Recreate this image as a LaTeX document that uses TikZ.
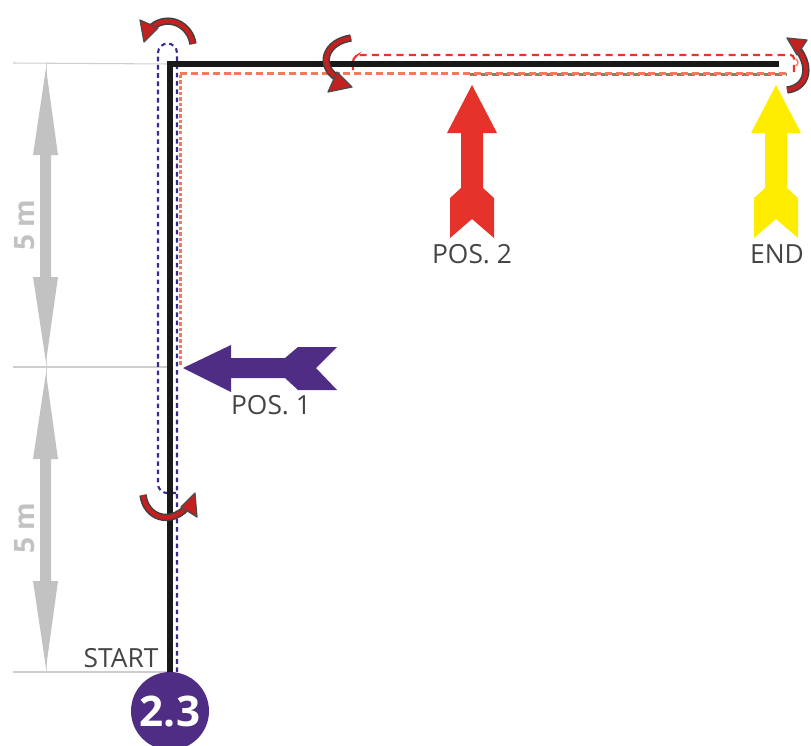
\documentclass[tikz,border=0pt]{standalone}
\usepackage{fontspec}
\setmainfont{Open Sans}
\usepackage{xcolor}
\usetikzlibrary{positioning}
\definecolor{trackpurple}{HTML}{4F2D84}
\definecolor{trackblue}{HTML}{3B2A8C}
\definecolor{trackorange}{HTML}{F4785A}
\definecolor{trackred}{HTML}{E8332A}
\definecolor{trackgreen}{HTML}{6E8F60}
\definecolor{signred}{HTML}{E5322A}
\definecolor{signyellow}{HTML}{FFED00}
\definecolor{dimgrey}{HTML}{C2C2C2}
\definecolor{turnred}{HTML}{C4201F}
\definecolor{labelgrey}{HTML}{444444}
\tikzset{
  track/.style={draw=black!90,line width=3pt},
  blueline/.style={draw=trackblue,line width=1.2pt,dash pattern=on 2.6pt off 2.1pt},
  orangeline/.style={draw=trackorange,line width=1.7pt,dash pattern=on 4pt off 2.2pt},
  orangedense/.style={draw=trackorange,line width=1.8pt,dash pattern=on 2pt off 1.2pt},
  redline/.style={draw=trackred,line width=1.2pt,dash pattern=on 4pt off 3pt},
  greenline/.style={draw=trackgreen,line width=1.2pt,dash pattern=on 4pt off 2.2pt},
  extline/.style={draw=dimgrey!80,line width=0.6pt},
  dimline/.style={draw=dimgrey!70,line width=0.5pt},
  dimarrow/.style={fill=dimgrey},
  turnline/.style={draw=turnred,line width=2.5pt,preaction={draw=black!75,line width=4.2pt}},
  turnhead/.style={fill=turnred,draw=black!70,line width=0.7pt,line join=round},
  poslabel/.style={text=labelgrey,font=\fontsize{15}{15}\selectfont,inner sep=0pt},
  dimlabel/.style={text=dimgrey,font=\fontsize{16}{16}\selectfont\bfseries,inner sep=0pt,rotate=90},
}
\begin{document}
\begin{tikzpicture}[x=0.02cm,y=-0.02cm]
\useasboundingbox (0,0) rectangle (811,745);
\clip (0,0) rectangle (811,745);

% named points of the course
\coordinate (corner) at (170,64);
\coordinate (finish) at (779,64);

% dimension lines
\draw[extline] (13,63) -- (corner);
\draw[extline] (13,367) -- (170,367);
\draw[extline] (13,672) -- (170,672);
\draw[dimline] (46,64) -- (46,672);
\fill[dimarrow] (46,68) -- (58,155) -- (51,155) -- (51,277) -- (58,277) -- (46,362)
  -- (33,277) -- (40,277) -- (40,155) -- (33,155) -- cycle;
\fill[dimarrow] (46,373) -- (58,459) -- (51,459) -- (51,581) -- (58,581) -- (46,668)
  -- (33,581) -- (40,581) -- (40,459) -- (33,459) -- cycle;
\node[dimlabel] (dimA) at (25,225) {5 m};
\node[dimlabel] (dimB) at (25,528) {5 m};

% dashed routes
\draw[blueline] (177,672) -- (177,53) arc[start angle=0,end angle=-180,radius=9.5]
  -- (158,484) arc[start angle=180,end angle=90,radius=9] -- (177,493);
\draw[orangedense] (180.5,365) -- (180.5,73);
\draw[greenline] (470,74.5) -- (786,74.5);
\draw[orangeline] (180,73) -- (790,73);
\draw[redline,rounded corners=2pt] (794,72) -- (794,55) -- (358,55) -- (353,58) -- (353,70);
\draw[trackorange,line width=0.8pt] (796,59) arc[start angle=-60,end angle=60,radius=4];

% main line
\node[circle,fill=trackpurple,minimum size=1.56cm,inner sep=0pt,text=white,
  font=\fontsize{24}{24}\selectfont\bfseries] (number) at (170,711) {2.3};
\draw[track] (number.north) -- (corner) -- (finish);

% turn arrows
\draw[turnline] (193,44) .. controls (190,24) and (168,14) .. (152,27);
\fill[turnhead] (140,20) -- (144,42) -- (158,28) -- cycle;
\draw[turnline] (351,38) .. controls (325,42) and (318,65) .. (337,78);
\fill[turnhead] (328,92) -- (352,87) -- (337,72) -- cycle;
\draw[turnline] (787,90) .. controls (805,88) and (813,70) .. (798,49);
\fill[turnhead] (787,38) -- (807,40) -- (797,55) -- cycle;
\draw[turnline] (143,495) .. controls (146,518) and (170,525) .. (186,508);
\fill[turnhead] (195,493) -- (197,517) -- (181,507) -- cycle;

% position signs
\foreach \x/\sign in {472/signred,776/signyellow}
  \fill[\sign] (\x,85) -- (\x+25,133) -- (\x+11,133) -- (\x+11,188) -- (\x+22,198)
    -- (\x+22,238) -- (\x,219) -- (\x-22,238) -- (\x-22,198) -- (\x-11,188)
    -- (\x-11,133) -- (\x-25,133) -- cycle;
\fill[trackpurple] (183,368) -- (231,345) -- (231,358) -- (285,358) -- (298,347) -- (337,347)
  -- (316,368) -- (337,390) -- (298,390) -- (285,378) -- (231,378) -- (231,392) -- cycle;

% labels
\node[poslabel] (pos1) at (271,405) {POS. 1};
\node[poslabel] (pos2) at (472,254) {POS. 2};
\node[poslabel] (endlabel) at (777,254) {END};
\node[poslabel] (startlabel) at (121,658) {START};
\end{tikzpicture}
\end{document}
